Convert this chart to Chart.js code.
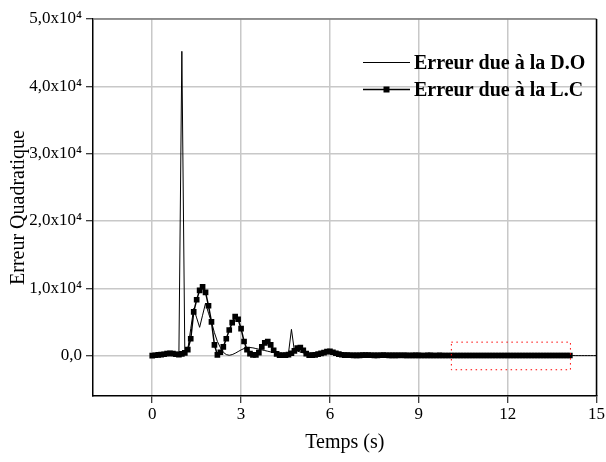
<!DOCTYPE html>
<html>
<head>
<meta charset="utf-8">
<script src="https://cdn.jsdelivr.net/npm/chart.js@4/dist/chart.umd.min.js"></script>
<style>
  html, body { margin: 0; padding: 0; background: #fff; }
  #c { display: block; }
</style>
</head>
<body>
<canvas id="c" width="606" height="462"></canvas>
<script>
// time axis (s), 0.1 s step
const temps = [
  0,0.1,0.2,0.3,0.4,0.5,0.6,0.7,0.8,0.9,
  1,1.1,1.2,1.3,1.4,1.5,1.6,1.7,1.8,1.9,
  2,2.1,2.2,2.3,2.4,2.5,2.6,2.7,2.8,2.9,
  3,3.1,3.2,3.3,3.4,3.5,3.6,3.7,3.8,3.9,
  4,4.1,4.2,4.3,4.4,4.5,4.6,4.7,4.8,4.9,
  5,5.1,5.2,5.3,5.4,5.5,5.6,5.7,5.8,5.9,
  6,6.1,6.2,6.3,6.4,6.5,6.6,6.7,6.8,6.9,
  7,7.1,7.2,7.3,7.4,7.5,7.6,7.7,7.8,7.9,
  8,8.1,8.2,8.3,8.4,8.5,8.6,8.7,8.8,8.9,
  9,9.1,9.2,9.3,9.4,9.5,9.6,9.7,9.8,9.9,
  10,10.1,10.2,10.3,10.4,10.5,10.6,10.7,10.8,10.9,
  11,11.1,11.2,11.3,11.4,11.5,11.6,11.7,11.8,11.9,
  12,12.1,12.2,12.3,12.4,12.5,12.6,12.7,12.8,12.9,
  13,13.1,13.2,13.3,13.4,13.5,13.6,13.7,13.8,13.9,
  14,14.1,14.2,14.3,14.4,14.5,14.6,14.7,14.8,14.9,
  15
];

// Erreur due à la D.O (thin line)
const erreurDO = [
  0,60,120,150,200,250,220,150,100,200,
  45200,400,900,4000,7000,5600,4200,6000,7800,6300,
  5000,3400,2100,1200,500,150,50,150,350,600,
  850,1050,1150,1200,1150,1050,950,850,750,650,
  550,450,320,220,150,150,350,3900,700,650,
  550,400,220,120,100,150,220,320,420,500,
  550,450,330,230,150,100,80,60,50,40,
  30,40,60,70,50,30,20,30,50,60,
  50,40,30,30,40,50,40,30,20,30,
  40,50,40,30,20,20,30,40,30,20,
  20,30,30,20,20,30,20,20,20,30,
  20,20,30,20,20,20,20,20,20,20,
  20,20,20,10,20,20,10,20,10,20,
  10,10,20,10,10,10,20,10,10,10,
  10,10,10,0,0,0,0,0,0,0,
  0
];

// Erreur due à la L.C (line + square markers), stops at 14.1 s
const erreurLC = [
  0,50,100,150,200,300,350,300,200,150,
  250,400,900,2500,6500,8300,9700,10200,9400,7400,
  5000,1600,100,500,1300,2500,3800,4900,5800,5400,
  4000,2100,900,300,100,100,450,1300,1900,2100,
  1600,800,250,80,50,60,150,350,700,1100,
  1200,800,300,50,60,120,220,320,450,580,
  620,500,350,220,130,80,60,50,40,30,
  40,60,80,70,50,30,30,50,60,50,
  40,30,30,40,50,40,30,20,30,40,
  30,20,20,30,30,20,20,30,20,20,
  20,20,20,20,20,20,20,20,20,20,
  20,20,20,20,20,20,20,20,20,20,
  20,20,10,20,20,10,20,20,10,20,
  10,20,10,10,20,10,10,10,20,10,
  10,10
];

const seriesNames = ['Erreur due à la D.O', 'Erreur due à la L.C'];

const xTicks = [0, 3, 6, 9, 12, 15];
const yTicks = [0, 10000, 20000, 30000, 40000, 50000];
const yTickLabels = ['0,0', '1,0x10⁴', '2,0x10⁴', '3,0x10⁴', '4,0x10⁴', '5,0x10⁴'];

// dotted red box around the tail (x from/to, y from/to)
const zoneX = [10.1, 14.12];
const zoneY = [-2100, 2000];

const SERIF = "'Liberation Serif', 'Times New Roman', serif";

const decor = {
  id: 'decor',
  afterDatasetsDraw(chart) {
    const { ctx, scales: { x, y } } = chart;
    ctx.save();
    ctx.strokeStyle = '#ff0000';
    ctx.lineWidth = 1;
    ctx.setLineDash([1.5, 3.5]);
    const x0 = x.getPixelForValue(zoneX[0]), x1 = x.getPixelForValue(zoneX[1]);
    const y0 = y.getPixelForValue(zoneY[1]), y1 = y.getPixelForValue(zoneY[0]);
    ctx.strokeRect(x0, y0, x1 - x0, y1 - y0);
    ctx.restore();
  },
  afterDraw(chart) {
    const { ctx, chartArea: a } = chart;
    ctx.save();
    // top and right frame
    ctx.lineWidth = 1.5;
    ctx.strokeStyle = '#7a7a7a';
    ctx.beginPath(); ctx.moveTo(a.left, a.top); ctx.lineTo(a.right, a.top); ctx.stroke();
    ctx.strokeStyle = '#000';
    ctx.beginPath(); ctx.moveTo(a.right, a.top); ctx.lineTo(a.right, a.bottom); ctx.stroke();

    // legend
    const lx0 = 363, lx1 = 410, tx = 414;
    const rows = [62.5, 89.5];
    ctx.font = 'bold 20px ' + SERIF;
    ctx.textBaseline = 'middle';
    ctx.fillStyle = '#000';
    chart.data.datasets.forEach((ds, i) => {
      const yy = rows[i];
      ctx.lineWidth = ds.borderWidth;
      ctx.strokeStyle = '#000';
      ctx.beginPath(); ctx.moveTo(lx0, yy); ctx.lineTo(lx1, yy); ctx.stroke();
      if (ds.pointRadius > 0) {
        const s = 6;
        ctx.fillRect((lx0 + lx1) / 2 - s / 2, yy - s / 2, s, s);
      }
      ctx.fillText(ds.label, tx, yy + 1);
    });
    ctx.restore();
  }
};

new Chart(document.getElementById('c'), {
  type: 'line',
  data: {
    datasets: [
      {
        label: seriesNames[0],
        data: erreurDO.map((v, i) => ({ x: temps[i], y: v })),
        borderColor: '#000',
        borderWidth: 1,
        pointRadius: 0,
        tension: 0
      },
      {
        label: seriesNames[1],
        data: erreurLC.map((v, i) => ({ x: temps[i], y: v })),
        borderColor: '#000',
        borderWidth: 1.5,
        pointStyle: 'rect',
        pointRadius: 4,
        pointBackgroundColor: '#000',
        pointBorderWidth: 0,
        tension: 0
      }
    ]
  },
  options: {
    responsive: false,
    animation: false,
    devicePixelRatio: 1,
    layout: { padding: { top: 19, right: 9, left: 0, bottom: 0 } },
    plugins: { legend: { display: false }, tooltip: { enabled: false } },
    scales: {
      x: {
        type: 'linear',
        min: -2, max: 15,
        afterBuildTicks: s => { s.ticks = xTicks.map(v => ({ value: v })); },
        afterFit: s => { s.height = 66; },
        grid: { color: '#c8c8c8', lineWidth: 1.5, tickColor: '#000', tickLength: 7, tickWidth: 1 },
        border: { color: '#000', width: 1.5 },
        ticks: { color: '#000', font: { family: SERIF, size: 17 }, padding: 1, maxRotation: 0 },
        title: { display: true, text: 'Temps (s)', color: '#000', font: { family: SERIF, size: 20 }, padding: { top: 0, bottom: 7 } }
      },
      y: {
        min: -6000, max: 50000,
        afterBuildTicks: s => { s.ticks = yTicks.map(v => ({ value: v })); },
        afterFit: s => { s.width = 93; },
        grid: { color: '#c8c8c8', lineWidth: 1.5, tickColor: '#000', tickLength: 7, tickWidth: 1 },
        border: { color: '#000', width: 1.5 },
        ticks: {
          color: '#000', font: { family: SERIF, size: 17 }, padding: 4,
          callback: v => yTickLabels[yTicks.indexOf(v)]
        },
        title: { display: true, text: 'Erreur Quadratique', color: '#000', font: { family: SERIF, size: 20 }, padding: { top: 7, bottom: 0 } }
      }
    }
  },
  plugins: [decor]
});
</script>
</body>
</html>
